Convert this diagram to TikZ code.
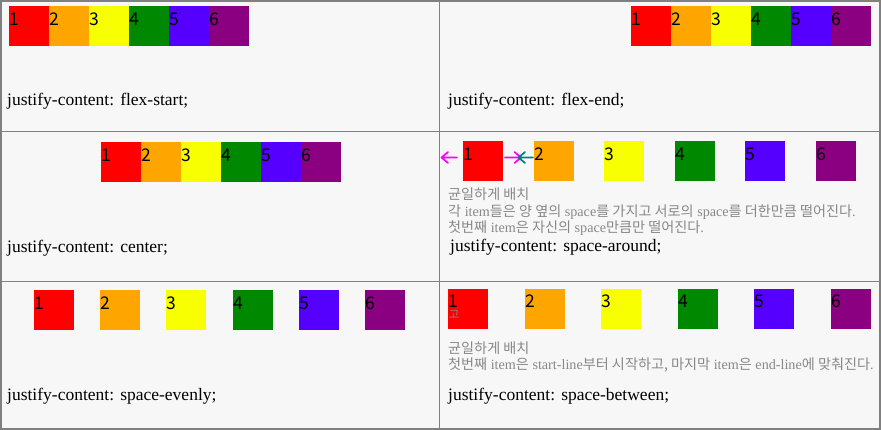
\documentclass[tikz,border=0pt]{standalone}
\usepackage{fontspec}
\setmainfont{Liberation Serif}
\newfontfamily\kr{Noto Sans CJK KR}
\definecolor{bg}{RGB}{247,247,247}
\definecolor{frame}{RGB}{128,128,128}
\definecolor{c1}{RGB}{255,0,0}
\definecolor{c2}{RGB}{255,165,0}
\definecolor{c3}{RGB}{247,255,0}
\definecolor{c4}{RGB}{0,136,0}
\definecolor{c5}{RGB}{85,0,255}
\definecolor{c6}{RGB}{139,0,128}
\definecolor{note}{RGB}{136,136,136}
\definecolor{teal2}{RGB}{0,128,128}
\definecolor{mag}{RGB}{255,0,255}
\tikzset{
  box/.style={minimum width=40pt,minimum height=40pt,inner sep=0pt,outer sep=0pt,anchor=north west},
  num/.style={font=\kr\fontsize{17.5}{17.5}\selectfont,inner sep=0pt,anchor=base west},
  lbl/.style={font=\fontsize{17.5}{17.5}\selectfont,inner sep=0pt,anchor=base west},
  notetxt/.style={font=\fontsize{14.15}{14.15}\selectfont,text=note,inner sep=0pt,anchor=base west},
  gridline/.style={draw=frame,line width=1.2pt},
  mk/.style={line width=1.7pt,line cap=round,line join=round}
}
\newcommand{\hw}{\hspace{0.35em}}
\begin{document}
\begin{tikzpicture}[x=1pt,y=-1pt]
\fill[bg] (0,0) rectangle (881,430);
\useasboundingbox (0,0) rectangle (881,430);
% frame
\draw[frame,line width=2pt] (0,1) -- (881,1);
\draw[frame,line width=2pt] (0,429) -- (881,429);
\draw[frame,line width=1.5pt] (0.75,0) -- (0.75,430);
\draw[frame,line width=2pt] (880,0) -- (880,430);
\draw[gridline] (0,131.5) -- (881,131.5);
\draw[gridline] (0,281.7) -- (881,281.7);
\draw[gridline] (439.3,0) -- (439.3,430);
% row 1 left: flex-start
\foreach \x [count=\i] in {9,49,89,129,169,209}{
  \node[box,fill=c\i] (fs\i) at (\x,6) {};
  \node[num] at (\x+0.5,26) {\i};
}
\node[lbl] (tfs) at (7,106) {justify-content:\hw flex-start;};
% row 1 right: flex-end
\foreach \x [count=\i] in {631,671,711,751,791,831}{
  \node[box,fill=c\i] (fe\i) at (\x,6) {};
  \node[num] at (\x+0.5,26) {\i};
}
\node[lbl] (tfe) at (448,106) {justify-content:\hw flex-end;};
% row 2 left: center
\foreach \x [count=\i] in {101,141,181,221,261,301}{
  \node[box,fill=c\i] (ce\i) at (\x,142) {};
  \node[num] at (\x+0.5,162) {\i};
}
\node[lbl] (tce) at (7,253) {justify-content:\hw center;};
% row 2 right: space-around
\foreach \x [count=\i] in {463,534,604,675,745,816}{
  \node[box,fill=c\i] (sa\i) at (\x,141) {};
  \node[num] at (\x+0.5,161) {\i};
}
\coordinate (m1s) at (457,157.5); \coordinate (m1e) at (441.5,157.5);
\coordinate (m2s) at (505,157.5); \coordinate (m2e) at (521,157.5);
\coordinate (t1s) at (533,157.5); \coordinate (t1e) at (518.5,157.5);
\draw[mk,mag] (m1s) -- (m1e) (m1e) ++(6.5,-5.5) -- (m1e) -- ++(6.5,5.5);
\draw[mk,mag] (m2s) -- (m2e) (m2e) ++(-6.5,-5.5) -- (m2e) -- ++(-6.5,5.5);
\draw[mk,teal2] (t1s) -- (t1e) (t1e) ++(6.5,-5.5) -- (t1e) -- ++(6.5,5.5);
\node[notetxt] (sa-n1) at (448,200) {\kr 균일하게 배치};
\node[notetxt] (sa-n2) at (448,217) {{\kr 각} item{\kr 들은 양 옆의} space{\kr 를 가지고 서로의} space{\kr 를 더한만큼 떨어진다}.};
\node[notetxt] (sa-n3) at (448,233) {{\kr 첫번째} item{\kr 은 자신의} space{\kr 만큼만 떨어진다}.};
\node[lbl] (tsa) at (450,252) {justify-content:\hw space-around;};
% row 3 left: space-evenly
\foreach \x [count=\i] in {34,100,166,233,299,365}{
  \node[box,fill=c\i] (se\i) at (\x,290) {};
  \node[num] at (\x+0.5,310) {\i};
}
\node[lbl] (tse) at (7,400) {justify-content:\hw space-evenly;};
% row 3 right: space-between
\foreach \x [count=\i] in {448,525,601,678,754,831}{
  \node[box,fill=c\i] (sb\i) at (\x,289) {};
  \node[num] at (\x+0.5,308) {\i};
}
\node[font=\kr\fontsize{11}{11}\selectfont,text=note,inner sep=0pt,anchor=base west] (go) at (449,318.5) {고};
\node[notetxt] (sb-n1) at (448,354) {\kr 균일하게 배치};
\node[notetxt] (sb-n2) at (448,370) {{\kr 첫번째} item{\kr 은} start-line{\kr 부터 시작하고,\ 마지막} item{\kr 은} end-line{\kr 에 맞춰진다}.};
\node[lbl] (tsb) at (448,400) {justify-content:\hw space-between;};
\end{tikzpicture}
\end{document}
